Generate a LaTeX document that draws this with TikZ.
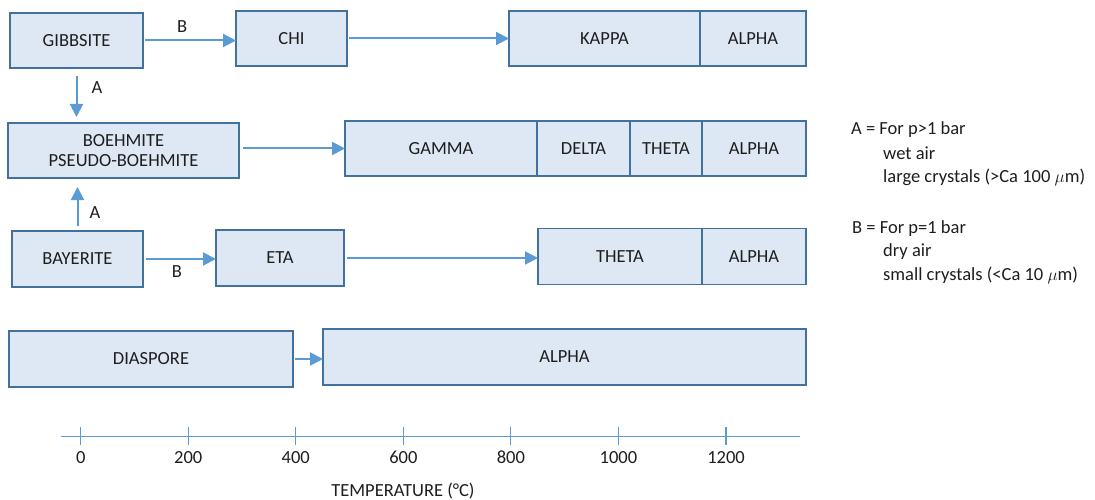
\documentclass[tikz,border=0pt]{standalone}
\usepackage{fontspec}
\setmainfont{Carlito}
\usetikzlibrary{arrows.meta}
\definecolor{boxfill}{HTML}{DEE8F5}
\definecolor{boxline}{HTML}{41719C}
\definecolor{arrcol}{HTML}{5B9BD5}
\definecolor{txt}{HTML}{1E1E1E}
\begin{document}
\begin{tikzpicture}[x=1pt,y=-1pt,
  every node/.style={font=\fontsize{18.5}{22}\selectfont, text=txt},
  phase/.style={draw=boxline, fill=boxfill, line width=1.2pt, inner sep=0pt, outer sep=0pt, align=center},
  arr/.style={draw=arrcol, line width=2pt, -{Triangle[length=13pt,width=13pt]}},
  tick/.style={draw=arrcol, line width=1.1pt},
  lbl/.style={inner sep=0pt},
  leg/.style={anchor=west, inner sep=0pt}]
\useasboundingbox (0,0) rectangle (1095,500);
% row 1
\node[phase, minimum width=133pt, minimum height=55pt] (gibb) at (76.5,40.5) {GIBBSITE};
\node[phase, minimum width=111pt, minimum height=55pt] (chi) at (291.5,38.5) {CHI};
\node[phase, minimum width=191pt, minimum height=55pt] (kappa) at (604.5,38.5) {KAPPA};
\node[phase, minimum width=106pt, minimum height=55pt] (alpha1) at (753,38.5) {ALPHA};
% row 2
\node[phase, minimum width=231pt, minimum height=55pt] (boeh) at (123.5,150.5) {BOEHMITE\\[-2pt]PSEUDO-BOEHMITE};
\node[phase, minimum width=192pt, minimum height=55pt] (gamma) at (441,148.5) {GAMMA};
\node[phase, minimum width=93pt, minimum height=55pt] (delta) at (583.5,148.5) {DELTA};
\node[phase, minimum width=72pt, minimum height=55pt] (theta2) at (666,148.5) {THETA};
\node[phase, minimum width=104pt, minimum height=55pt] (alpha2) at (754,148.5) {ALPHA};
% row 3
\node[phase, minimum width=131pt, minimum height=56pt] (bay) at (77.5,259) {BAYERITE};
\node[phase, minimum width=128pt, minimum height=56pt] (eta) at (280,258) {ETA};
\node[phase, minimum width=164pt, minimum height=56pt] (theta3) at (620,256.5) {THETA};
\node[phase, minimum width=104pt, minimum height=56pt] (alpha3) at (754,256.5) {ALPHA};
% row 4
\node[phase, minimum width=284pt, minimum height=56pt] (dia) at (151,359) {DIASPORE};
\node[phase, minimum width=483pt, minimum height=56pt] (alpha4) at (564.5,357) {ALPHA};
% connectors
\draw[arr, shorten <=2pt] (gibb.east) -- (gibb.east -| chi.west) node[lbl, pos=0.42, above=7pt] {B};
\draw[arr, shorten <=2pt] (chi.east) -- (chi.east -| kappa.west);
\draw[arr, shorten <=8pt, shorten >=6pt] (gibb.south) -- (gibb.south |- boeh.north);
\node[lbl] (la1) at (97,88) {A};
\draw[arr, shorten <=4pt] (gamma.west -| boeh.east) -- (gamma.west);
\draw[arr, shorten <=5pt, shorten >=9pt] (bay.north) -- (bay.north |- boeh.south);
\node[lbl] (la2) at (95,213) {A};
\draw[arr, shorten <=3pt] (bay.east) -- (bay.east -| eta.west);
\node[lbl] (lb2) at (177,272) {B};
\draw[arr, shorten <=3pt] (eta.east) -- (eta.east -| theta3.west);
\draw[arr, shorten <=2pt] (dia.east) -- (dia.east -| alpha4.west);
% legend
\node[leg] (legA) at (851,130) {A = For p>1 bar};
\node[leg] (legA2) at (883,153.5) {wet air};
\node[leg] (legA3) at (883,177) {large crystals (>Ca 100 $\mu$m)};
\node[leg] (legB) at (852,228.5) {B = For p=1 bar};
\node[leg] (legB2) at (883,252) {dry air};
\node[leg] (legB3) at (883,275.5) {small crystals (<Ca 10 $\mu$m)};
% axis
\coordinate (axL) at (61,436.7);
\coordinate (axR) at (800,436.7);
\draw[tick] (axL) -- (axR);
\foreach \v [count=\i from 0] in {0,200,400,600,800,1000,1200} {
  \coordinate (t\i) at ({80.7+107.55*\i},436.7);
  \draw[tick] ([yshift=9.7pt]t\i) -- ([yshift=-8.3pt]t\i);
  \node[lbl] (tl\i) at ([yshift=-20.5pt]t\i) {\v};
}
\node[lbl] (axt) at (403,491) {TEMPERATURE (°C)};
\end{tikzpicture}
\end{document}
